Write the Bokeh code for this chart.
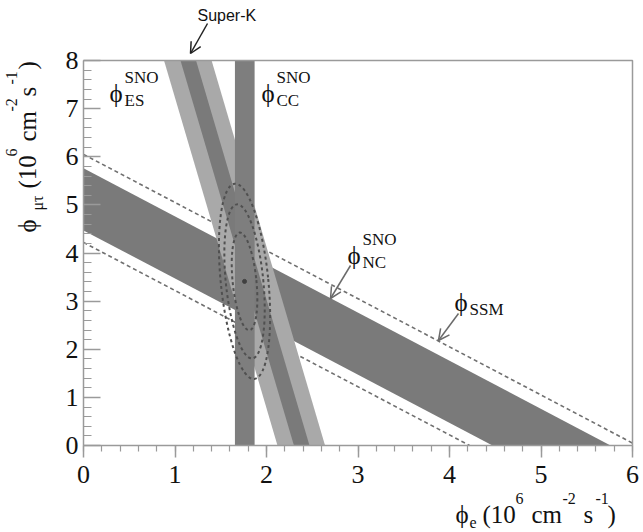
import math
from bokeh.plotting import figure
from bokeh.models import Label, Arrow, OpenHead, Range1d, SingleIntervalTicker
from bokeh.embed import file_html
from bokeh.resources import INLINE

# ---------------- data ----------------
NC_BAND = [4.47, 5.76]      # phi_e + phi_mutau  (SNO neutral current)
SSM_BAND = [4.22, 6.05]     # phi_e + phi_mutau  (standard solar model, dashed)
CC_BAND = [1.655, 1.87]     # phi_e              (SNO charged current)
ES_BAND = [2.12, 2.64]      # phi_e + r*phi_mutau (SNO elastic scattering)
SK_BAND = [2.30, 2.47]      # phi_e + r*phi_mutau (Super-K)
ES_RATIO = 0.155            # r
FIT_CENTER = [1.76, 3.41]   # best fit (phi_e, phi_mutau)
CONTOUR_W = [0.26, 0.41, 0.52]
CONTOUR_H = [2.04, 3.22, 4.08]
CONTOUR_ANGLE = 0.1
X_RANGE = [0, 6]
Y_RANGE = [0, 8]

W, H = 643, 532
LEFT, RIGHT, TOP, BOTTOM = 83, 632, 60, 445   # plot area in page pixels

sx = (RIGHT - LEFT) / (X_RANGE[1] - X_RANGE[0])
sy = (BOTTOM - TOP) / (Y_RANGE[1] - Y_RANGE[0])

def dx(px):
    return X_RANGE[0] + (px - LEFT) / sx

def dy(py):
    return Y_RANGE[0] + (BOTTOM - py) / sy

# frame covers the whole canvas; axes are fixed at the data origin
p = figure(width=W, height=H, title=None,
           x_range=Range1d(dx(0), dx(W)), y_range=Range1d(dy(H), dy(0)),
           output_backend="svg", toolbar_location=None,
           min_border_left=0, min_border_right=0, min_border_top=0, min_border_bottom=0)
p.background_fill_color = "white"
p.border_fill_color = "white"
p.grid.visible = False
p.outline_line_color = None

xlo, xhi = X_RANGE
ylo, yhi = Y_RANGE

# NC band
p.patch(x=[xlo, xlo, NC_BAND[1], NC_BAND[0]], y=[NC_BAND[0], NC_BAND[1], ylo, ylo],
        fill_color="#7a7a7a", line_color=None)

# SSM dashed lines (clipped to the plot box)
for c in SSM_BAND:
    xe = min(c, xhi)
    p.line(x=[xlo, xe], y=[c, c - xe], line_color="#707070", line_dash="4 3", line_width=1.6)

# ES (light) and Super-K (dark) bands
def es_patch(band, color):
    xs = [band[0] - ES_RATIO * ylo, band[1] - ES_RATIO * ylo,
          band[1] - ES_RATIO * yhi, band[0] - ES_RATIO * yhi]
    ys = [ylo, ylo, yhi, yhi]
    p.patch(x=xs, y=ys, fill_color=color, line_color=None)

es_patch(ES_BAND, "#a9a9a9")
es_patch(SK_BAND, "#7a7a7a")

# CC band
p.quad(left=[CC_BAND[0]], right=[CC_BAND[1]], bottom=[ylo], top=[yhi],
       fill_color="#7e7e7e", line_color=None)

# contours
n = len(CONTOUR_W)
p.ellipse(x=[FIT_CENTER[0]] * n, y=[FIT_CENTER[1]] * n, width=CONTOUR_W, height=CONTOUR_H,
          angle=CONTOUR_ANGLE, fill_color=None, line_color="#505050", line_dash="3 3",
          line_width=2)
p.scatter(x=[FIT_CENTER[0]], y=[FIT_CENTER[1]], size=4, color="#404040")

# top / right frame lines
p.line(x=[xlo, xhi, xhi], y=[yhi, yhi, ylo], line_color="#9a9a9a", line_width=1.5)

# axes
for ax in (p.xaxis[0], p.yaxis[0]):
    ax.axis_label = None
    ax.axis_line_color = "#9a9a9a"
    ax.axis_line_width = 1.5
    ax.major_tick_line_color = "#9a9a9a"
    ax.minor_tick_line_color = "#9a9a9a"
    ax.major_tick_line_width = 1.5
    ax.minor_tick_line_width = 1.2
    ax.major_label_text_font = "Liberation Serif"
    ax.major_label_text_font_size = "26px"
    ax.major_label_text_color = "#111111"
    ax.ticker = SingleIntervalTicker(interval=1, num_minor_ticks=5)

p.xaxis.fixed_location = ylo
p.xaxis.bounds = (xlo, xhi)
p.yaxis.fixed_location = xlo
p.yaxis.bounds = (ylo, yhi)

p.xaxis.major_tick_in = 0
p.xaxis.major_tick_out = 12
p.xaxis.minor_tick_in = 0
p.xaxis.minor_tick_out = 6
p.xaxis.major_label_standoff = 8

p.yaxis.major_tick_in = 17
p.yaxis.major_tick_out = 0
p.yaxis.minor_tick_in = 8
p.yaxis.minor_tick_out = 0
p.yaxis.major_label_standoff = 5

SERIF = "Liberation Serif"
MID = 0.3375   # distance (in em) from baseline to the middle of the em box

def lab(px, py, text, size, font=SERIF, angle=0.0, color="#111111"):
    # (px, py) is the wanted start of the baseline in page pixels
    d = MID * size
    ax_ = px - math.sin(angle) * d
    ay_ = py - math.cos(angle) * d
    p.add_layout(Label(x=dx(ax_), y=dy(ay_), text=text, text_font=font,
                       text_font_size=f"{size}px", text_color=color,
                       text_align="left", text_baseline="middle", angle=angle))

PHI = "\u03d5"
BIG, SMALL = 25, 16

# x axis label
lab(455, 522, PHI, BIG)
lab(469, 527, "e", SMALL)
lab(482, 522, "(10", BIG)
lab(515, 503, "6", SMALL)
lab(531, 522, "cm", BIG)
lab(562, 503, "-2", SMALL)
lab(583, 522, "s", BIG)
lab(595, 503, "-1", SMALL)
lab(607, 522, ")", BIG)

# y axis label (rotated)
A = math.pi / 2
lab(35, 232, PHI, BIG, angle=A)
lab(42, 210, "\u03bc\u03c4", SMALL, angle=A)
lab(35, 188, "(10", BIG, angle=A)
lab(16, 156, "6", SMALL, angle=A)
lab(35, 141, "cm", BIG, angle=A)
lab(16, 111, "-2", SMALL, angle=A)
lab(35, 96, "s", BIG, angle=A)
lab(16, 84, "-1", SMALL, angle=A)
lab(35, 69, ")", BIG, angle=A)

# in-plot labels
def flux_label(px, py, sub, sup=None):
    lab(px, py, PHI, BIG)
    lab(px + 15, py + 5, sub, 17)
    if sup:
        lab(px + 15, py - 18, sup, 17)

flux_label(109, 101, "ES", "SNO")
flux_label(261, 101, "CC", "SNO")
flux_label(347, 263, "NC", "SNO")
flux_label(454, 310, "SSM")

lab(197, 20, "Super-K", 16, font="Liberation Sans")

# arrows
def arrow(p0, p1, color):
    p.add_layout(Arrow(x_start=dx(p0[0]), y_start=dy(p0[1]), x_end=dx(p1[0]), y_end=dy(p1[1]),
                       line_color=color, line_width=1.5,
                       end=OpenHead(size=11, line_color=color, line_width=1.5)))

arrow((207, 23), (190, 53), "#222222")
arrow((350, 265), (330, 298), "#6a6a6a")
arrow((458, 313), (438, 340), "#6a6a6a")

open("out.html", "w").write(file_html(p, INLINE))
